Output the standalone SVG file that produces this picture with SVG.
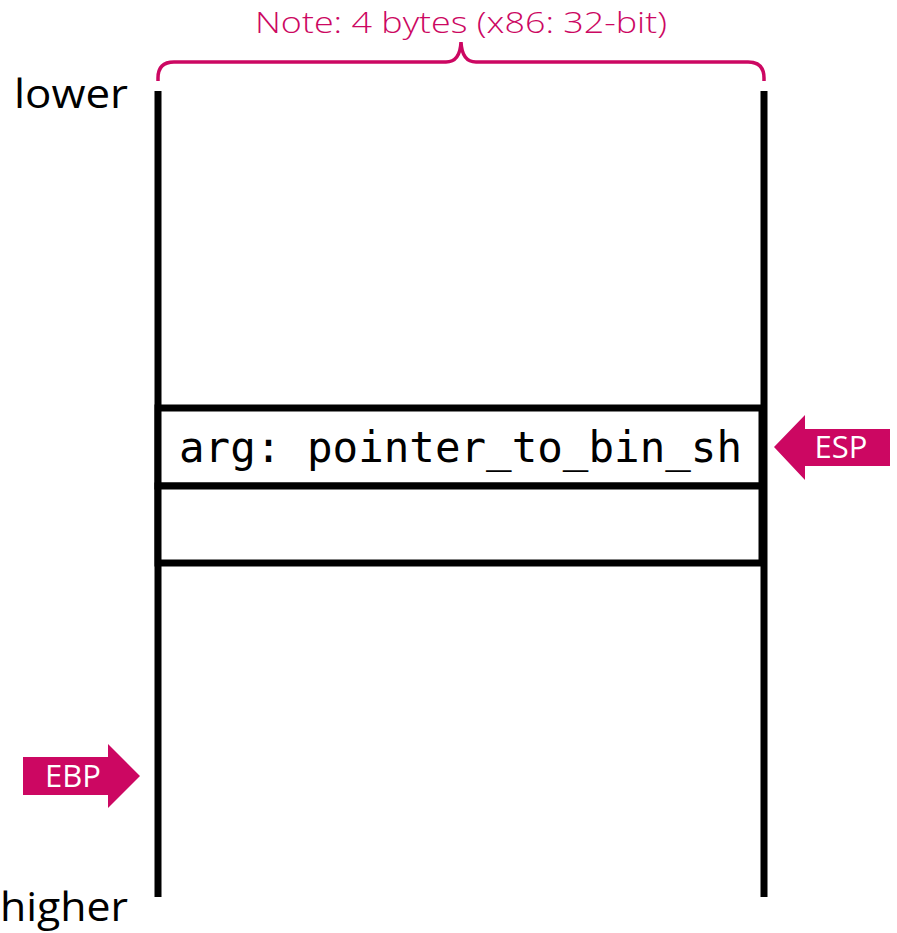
<svg xmlns="http://www.w3.org/2000/svg" width="897" height="933" viewBox="0 0 897 933">
<style>
.lbl{font-family:"Open Sans","Liberation Sans",sans-serif;font-size:40px;fill:#000;text-anchor:end}
.wall{stroke:#000;stroke-width:7;fill:none}
.cell{stroke:#000;stroke-width:7;fill:#fff}
.mono{font-family:"DejaVu Sans Mono","Liberation Mono",monospace;font-size:43px;fill:#000}
.ptr{fill:#cc0762}
.ptrt{font-family:"Open Sans","Liberation Sans",sans-serif;font-size:31px;fill:#fff;text-anchor:middle}
.note{font-family:"Open Sans","Liberation Sans",sans-serif;font-size:30px;font-weight:300;fill:#cc0762}
</style>
<rect width="897" height="933" fill="#fff"/>
<g id="brace">
<path d="M158,81 V78 Q158,62 174,62 H446 Q460,62 461,42 Q462,62 476,62 H748 Q764,62 764,78 V81" fill="none" stroke="#cc0762" stroke-width="3.5"/>
<text class="note" x="255" y="33" textLength="412" lengthAdjust="spacingAndGlyphs">Note: 4 bytes (x86: 32-bit)</text>
</g>
<g id="stack">
<line class="wall" x1="158" y1="91" x2="158" y2="897"/>
<line class="wall" x1="764" y1="91" x2="764" y2="897"/>
</g>
<g id="cell-arg">
<rect class="cell" x="158" y="408" width="604" height="78"/>
<text class="mono" x="179" y="462" textLength="563" lengthAdjust="spacingAndGlyphs">arg: pointer_to_bin_sh</text>
</g>
<g id="cell-empty">
<rect class="cell" x="158" y="486" width="604" height="77"/>
</g>
<g id="labels">
<text class="lbl" x="128" y="108" textLength="114" lengthAdjust="spacingAndGlyphs">lower</text>
<text class="lbl" x="128" y="921" textLength="128" lengthAdjust="spacingAndGlyphs">higher</text>
</g>
<g id="esp">
<polygon class="ptr" points="774,447 805,415 805,429 890,429 890,466 805,466 805,480"/>
<text class="ptrt" x="841" y="458">ESP</text>
</g>
<g id="ebp">
<polygon class="ptr" points="140,776 108,744 108,757 23,757 23,795 108,795 108,808"/>
<text class="ptrt" x="73" y="787">EBP</text>
</g>
<g id="connectors"></g>
</svg>
